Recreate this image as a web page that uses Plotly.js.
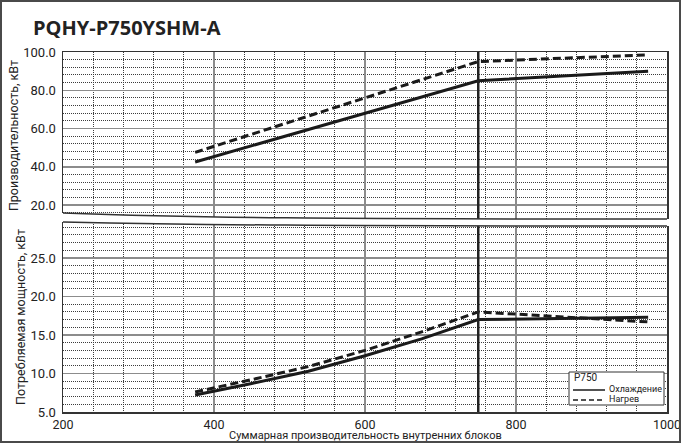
<!DOCTYPE html>
<html>
<head>
<meta charset="utf-8">
<script src="https://cdn.plot.ly/plotly-3.0.1.min.js"></script>
<style>
html,body{margin:0;padding:0;background:#fff;}
#wrap{position:relative;width:681px;height:443px;}
#chart{position:absolute;left:0;top:0;width:681px;height:443px;}
#frame{position:absolute;left:0;top:0;width:681px;height:443px;box-sizing:border-box;border:2px solid #4a4a4a;pointer-events:none;}
</style>
</head>
<body>
<div id="wrap"><div id="chart"></div><div id="frame"></div></div>
<script>
// ---- data ----
const chartTitle = 'PQHY-P750YSHM-A';
const seriesNames = ['Охлаждение', 'Нагрев'];
const legendTitle = 'P750';
const xCap = [375, 750, 975];
const capCool = [42.5, 85, 90];
const capHeat = [47.5, 95, 98.5];
const xPow = [375, 450, 525, 600, 675, 750, 975];
const powCool = [7.2, 8.7, 10.3, 12.3, 14.5, 17.0, 17.3];
const powHeat = [7.6, 9.2, 10.9, 13.0, 15.4, 18.0, 16.7];
const xTicks = [200, 400, 600, 800, 1000];
const capTicks = [20, 40, 60, 80, 100];
const powTicks = [5, 10, 15, 20, 25];
const refX = 750;
const xTitle = 'Суммарная производительность внутренних блоков';
const capTitle = 'Производительность, кВт';
const powTitle = 'Потребляемая мощность, кВт';

// ---- layout helpers (pixel -> paper) ----
const W = 681, H = 443, mL = 63, mR = 14, mT = 52, mB = 31;
const pw = W - mL - mR, ph = H - mT - mB;
const px = v => (v - mL) / pw;
const py = v => (H - mB - v) / ph;
function P(x, y) { return px(x).toFixed(5) + ',' + py(y).toFixed(5); }

const topBottomPx = 219, lowTopPx = 222;
const font = 'Roboto, sans-serif';
const dark = '#222';
const lineCol = '#1a1a1a';
const heatDash = '8px,4px';

const traces = [
  {x: xCap, y: capCool, xaxis: 'x2', yaxis: 'y2', mode: 'lines', name: seriesNames[0], showlegend: false,
   line: {color: lineCol, width: 3}},
  {x: xCap, y: capHeat, xaxis: 'x2', yaxis: 'y2', mode: 'lines', name: seriesNames[1], showlegend: false,
   line: {color: lineCol, width: 3, dash: heatDash}},
  {x: xPow, y: powCool, xaxis: 'x', yaxis: 'y', mode: 'lines', name: seriesNames[0], showlegend: false,
   line: {color: lineCol, width: 3}},
  {x: xPow, y: powHeat, xaxis: 'x', yaxis: 'y', mode: 'lines', name: seriesNames[1], showlegend: false,
   line: {color: lineCol, width: 3, dash: heatDash}}
];

const gridMajor = '#8c8c8c';
const gridMinor = '#3c3c3c';
const minorDash = '1px,1px';
const xCommon = {
  range: [200, 1000], tickvals: xTicks, showgrid: true, gridcolor: gridMajor, gridwidth: 1.5,
  minor: {tick0: 200, dtick: 40, showgrid: true, gridcolor: gridMinor, griddash: minorDash, gridwidth: 1, ticks: ''},
  zeroline: false, ticks: '', showline: true, linecolor: '#333', linewidth: 1.5
};

const upperWave = 'M' + P(63, 213) + ' C' + P(200, 218) + ' ' + P(320, 219) + ' ' + P(667, 219);
const lowerWave = 'M' + P(63, 222) + ' C' + P(200, 225) + ' ' + P(320, 226) + ' ' + P(667, 226);
const band = 'M' + P(61, 213) + ' L' + P(63, 213) + ' C' + P(200, 218) + ' ' + P(320, 219) + ' ' + P(667, 219) +
  ' L' + P(669, 219) + ' L' + P(669, 226) + ' L' + P(667, 226) + ' C' + P(320, 226) + ' ' + P(200, 225) + ' ' + P(63, 222) +
  ' L' + P(61, 222) + ' Z';

// custom compact legend (box, samples, labels)
const lg = {x0: 569, x1: 664, y0: 372, y1: 405};
const legendShapes = [
  {type: 'rect', xref: 'paper', yref: 'paper', x0: px(lg.x0), x1: px(lg.x1), y0: py(lg.y1), y1: py(lg.y0),
   fillcolor: '#fff', line: {color: '#333', width: 1}, layer: 'above'},
  {type: 'line', xref: 'paper', yref: 'paper', x0: px(573), x1: px(605), y0: py(390), y1: py(390),
   line: {color: lineCol, width: 1.5}, layer: 'above'},
  {type: 'line', xref: 'paper', yref: 'paper', x0: px(573), x1: px(605), y0: py(400), y1: py(400),
   line: {color: lineCol, width: 1.5, dash: '5px,3px'}, layer: 'above'}
];
const legendAnn = [
  {text: legendTitle, xref: 'paper', yref: 'paper', x: px(572), y: py(377.5), xanchor: 'left', yanchor: 'middle',
   showarrow: false, font: {family: font, size: 10, color: dark}},
  {text: seriesNames[0], xref: 'paper', yref: 'paper', x: px(607), y: py(389), xanchor: 'left', yanchor: 'middle',
   showarrow: false, font: {family: font, size: 9, color: dark}},
  {text: seriesNames[1], xref: 'paper', yref: 'paper', x: px(607), y: py(399), xanchor: 'left', yanchor: 'middle',
   showarrow: false, font: {family: font, size: 9, color: dark}},
  {text: xTitle, xref: 'paper', yref: 'paper', x: px(365), y: py(435.5), xanchor: 'center', yanchor: 'middle',
   showarrow: false, font: {family: font, size: 11, color: dark}}
];

const layout = {
  width: W, height: H,
  margin: {l: mL, r: mR, t: mT, b: mB},
  paper_bgcolor: '#fff', plot_bgcolor: '#fff',
  font: {family: font, color: dark, size: 12},
  showlegend: false,
  title: {text: chartTitle, x: 33 / W, xanchor: 'left', xref: 'container', y: 1 - 28 / H, yanchor: 'middle', yref: 'container',
          font: {family: 'Open Sans, sans-serif', size: 20, weight: 'bold', color: dark}},
  xaxis: Object.assign({}, xCommon, {anchor: 'y', domain: [0, 1],
    tickfont: {family: font, size: 12.5, color: dark}, ticklabeloverflow: 'allow', automargin: false}),
  xaxis2: Object.assign({}, xCommon, {anchor: 'y2', matches: 'x', domain: [0, 1], side: 'top', showticklabels: false}),
  yaxis: {domain: [0, py(lowTopPx)], range: [5, 5 + (H - mB - lowTopPx) / 7.7], tickvals: powTicks, tickformat: '.1f',
    showgrid: true, gridcolor: gridMajor, gridwidth: 1.5,
    minor: {tick0: 5, dtick: 1, showgrid: true, gridcolor: gridMinor, griddash: minorDash, gridwidth: 1, ticks: ''},
    zeroline: false, ticks: '', showline: true, mirror: true, linecolor: '#333', linewidth: 1.5,
    tickfont: {family: font, size: 13, color: dark}, ticklabelstandoff: 3, anchor: 'x',
    title: {text: powTitle, standoff: 2, font: {family: font, size: 12.5, color: dark}}},
  yaxis2: {domain: [py(topBottomPx), 1], range: [100 - (topBottomPx - mT) / 1.9125, 100], tickvals: capTicks, tickformat: '.1f',
    showgrid: true, gridcolor: gridMajor, gridwidth: 1.5,
    minor: {tick0: 0, dtick: 4, showgrid: true, gridcolor: gridMinor, griddash: minorDash, gridwidth: 1, ticks: ''},
    zeroline: false, ticks: '', showline: true, mirror: true, linecolor: '#333', linewidth: 1.5,
    tickfont: {family: font, size: 13, color: dark}, ticklabelstandoff: 3, anchor: 'x2',
    title: {text: capTitle, standoff: 2, font: {family: font, size: 12.5, color: dark}}},
  shapes: [
    {type: 'line', xref: 'x', yref: 'y domain', x0: refX, x1: refX, y0: 0, y1: 1, line: {color: '#222', width: 2.5}, layer: 'above'},
    {type: 'line', xref: 'x2', yref: 'y2 domain', x0: refX, x1: refX, y0: 0, y1: 1, line: {color: '#222', width: 2.5}, layer: 'above'},
    {type: 'path', xref: 'paper', yref: 'paper', path: band, fillcolor: '#fff', line: {width: 0}, layer: 'above'},
    {type: 'path', xref: 'paper', yref: 'paper', path: upperWave, line: {color: '#333', width: 1.5}, layer: 'above'},
    {type: 'path', xref: 'paper', yref: 'paper', path: lowerWave, line: {color: '#333', width: 1.5}, layer: 'above'}
  ].concat(legendShapes),
  annotations: legendAnn
};

Plotly.newPlot('chart', traces, layout, {displayModeBar: false, staticPlot: true});
</script>
</body>
</html>
